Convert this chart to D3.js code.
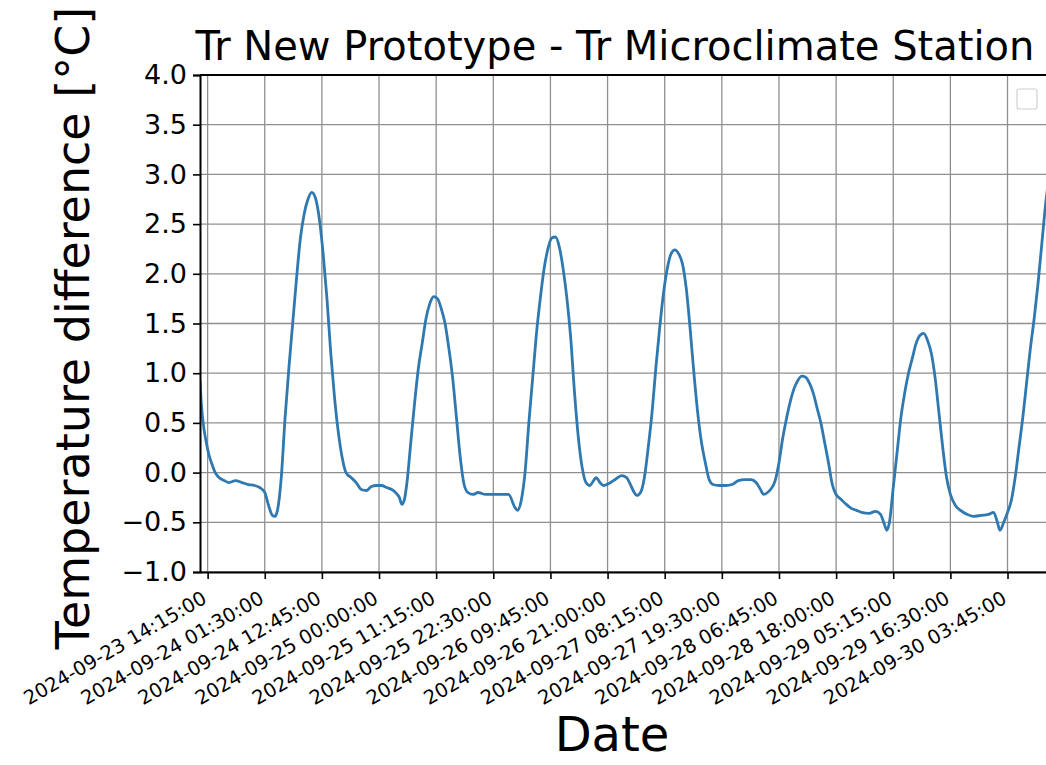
<!DOCTYPE html>
<html>
<head>
<meta charset="utf-8">
<script src="https://cdn.jsdelivr.net/npm/d3@7"></script>
<style>
  body { margin: 0; background: #fff; }
  svg { display: block; font-family: "DejaVu Sans", sans-serif; }
</style>
</head>
<body>
<div id="chart"></div>
<script>
// 時間 (UTC) 與溫度差
const times = [
  "2024-09-23 12:45", "2024-09-23 13:00", "2024-09-23 13:30", "2024-09-23 14:00", "2024-09-23 14:30",
  "2024-09-23 15:00", "2024-09-23 15:45", "2024-09-23 16:30", "2024-09-23 17:30", "2024-09-23 18:30",
  "2024-09-23 19:45", "2024-09-23 21:00", "2024-09-23 22:15", "2024-09-23 23:30", "2024-09-24 00:30",
  "2024-09-24 01:30", "2024-09-24 02:15", "2024-09-24 03:00", "2024-09-24 03:30", "2024-09-24 04:00",
  "2024-09-24 04:45", "2024-09-24 05:30", "2024-09-24 06:15", "2024-09-24 07:00", "2024-09-24 07:45",
  "2024-09-24 08:30", "2024-09-24 09:15", "2024-09-24 10:00", "2024-09-24 10:45", "2024-09-24 11:30",
  "2024-09-24 12:15", "2024-09-24 13:00", "2024-09-24 13:45", "2024-09-24 14:30", "2024-09-24 15:15",
  "2024-09-24 16:00", "2024-09-24 16:45", "2024-09-24 17:30", "2024-09-24 18:30", "2024-09-24 19:30",
  "2024-09-24 20:30", "2024-09-24 21:30", "2024-09-24 22:30", "2024-09-24 23:30", "2024-09-25 00:30",
  "2024-09-25 01:30", "2024-09-25 02:30", "2024-09-25 03:15", "2024-09-25 04:00", "2024-09-25 04:30",
  "2024-09-25 05:00", "2024-09-25 05:30", "2024-09-25 06:15", "2024-09-25 07:00", "2024-09-25 07:45",
  "2024-09-25 08:30", "2024-09-25 09:15", "2024-09-25 10:00", "2024-09-25 10:45", "2024-09-25 11:30",
  "2024-09-25 12:15", "2024-09-25 13:00", "2024-09-25 13:45", "2024-09-25 14:30", "2024-09-25 15:15",
  "2024-09-25 16:00", "2024-09-25 16:45", "2024-09-25 17:30", "2024-09-25 18:30", "2024-09-25 19:30",
  "2024-09-25 21:00", "2024-09-25 22:30", "2024-09-26 00:00", "2024-09-26 01:30", "2024-09-26 02:45",
  "2024-09-26 03:15", "2024-09-26 04:00", "2024-09-26 04:45", "2024-09-26 05:30", "2024-09-26 06:15",
  "2024-09-26 07:00", "2024-09-26 07:45", "2024-09-26 08:30", "2024-09-26 09:15", "2024-09-26 10:00",
  "2024-09-26 10:45", "2024-09-26 11:30", "2024-09-26 12:15", "2024-09-26 13:00", "2024-09-26 13:45",
  "2024-09-26 14:30", "2024-09-26 15:15", "2024-09-26 16:00", "2024-09-26 16:45", "2024-09-26 17:30",
  "2024-09-26 18:15", "2024-09-26 18:45", "2024-09-26 19:30", "2024-09-26 20:15", "2024-09-26 21:15",
  "2024-09-26 22:30", "2024-09-26 23:45", "2024-09-27 00:45", "2024-09-27 01:30", "2024-09-27 02:15",
  "2024-09-27 02:45", "2024-09-27 03:30", "2024-09-27 04:15", "2024-09-27 05:00", "2024-09-27 05:45",
  "2024-09-27 06:30", "2024-09-27 07:15", "2024-09-27 08:00", "2024-09-27 08:45", "2024-09-27 09:30",
  "2024-09-27 10:15", "2024-09-27 11:00", "2024-09-27 11:45", "2024-09-27 12:30", "2024-09-27 13:15",
  "2024-09-27 14:00", "2024-09-27 14:45", "2024-09-27 15:30", "2024-09-27 16:15", "2024-09-27 17:00",
  "2024-09-27 17:45", "2024-09-27 19:00", "2024-09-27 20:15", "2024-09-27 21:30", "2024-09-27 22:45",
  "2024-09-28 00:00", "2024-09-28 01:15", "2024-09-28 02:15", "2024-09-28 03:00", "2024-09-28 03:45",
  "2024-09-28 04:30", "2024-09-28 05:15", "2024-09-28 06:00", "2024-09-28 06:45", "2024-09-28 07:30",
  "2024-09-28 08:15", "2024-09-28 09:00", "2024-09-28 09:45", "2024-09-28 10:30", "2024-09-28 11:15",
  "2024-09-28 12:00", "2024-09-28 12:45", "2024-09-28 13:30", "2024-09-28 14:15", "2024-09-28 15:00",
  "2024-09-28 15:45", "2024-09-28 16:30", "2024-09-28 17:15", "2024-09-28 18:00", "2024-09-28 19:00",
  "2024-09-28 20:00", "2024-09-28 21:00", "2024-09-28 22:00", "2024-09-28 23:00", "2024-09-29 00:30",
  "2024-09-29 01:45", "2024-09-29 02:45", "2024-09-29 03:30", "2024-09-29 04:00", "2024-09-29 04:30",
  "2024-09-29 05:15", "2024-09-29 06:00", "2024-09-29 06:45", "2024-09-29 07:30", "2024-09-29 08:15",
  "2024-09-29 09:00", "2024-09-29 09:45", "2024-09-29 10:30", "2024-09-29 11:15", "2024-09-29 12:00",
  "2024-09-29 12:45", "2024-09-29 13:30", "2024-09-29 14:15", "2024-09-29 15:00", "2024-09-29 15:45",
  "2024-09-29 16:30", "2024-09-29 17:30", "2024-09-29 18:30", "2024-09-29 19:45", "2024-09-29 21:00",
  "2024-09-29 22:30", "2024-09-30 00:00", "2024-09-30 01:00", "2024-09-30 01:45", "2024-09-30 02:15",
  "2024-09-30 03:00", "2024-09-30 03:45", "2024-09-30 04:30", "2024-09-30 05:15", "2024-09-30 06:00",
  "2024-09-30 06:45", "2024-09-30 07:30", "2024-09-30 08:15", "2024-09-30 09:00", "2024-09-30 09:45",
  "2024-09-30 10:30", "2024-09-30 11:15", "2024-09-30 12:00"
];
const tempDiff = [
  0.92, 0.70, 0.45, 0.30, 0.18,
  0.10, 0.00, -0.05, -0.08, -0.10,
  -0.08, -0.10, -0.12, -0.13, -0.15,
  -0.20, -0.33, -0.43, -0.44, -0.38,
  -0.05, 0.55, 1.05, 1.50, 1.95,
  2.35, 2.60, 2.75, 2.82, 2.76,
  2.55, 2.20, 1.75, 1.20, 0.75,
  0.40, 0.15, 0.00, -0.05, -0.10,
  -0.17, -0.18, -0.14, -0.13, -0.13,
  -0.15, -0.17, -0.20, -0.25, -0.32,
  -0.27, -0.10, 0.30, 0.70, 1.05,
  1.30, 1.55, 1.70, 1.77, 1.75,
  1.65, 1.50, 1.25, 0.95, 0.55,
  0.15, -0.12, -0.20, -0.22, -0.20,
  -0.22, -0.22, -0.22, -0.22, -0.35,
  -0.38, -0.28, 0.00, 0.50, 0.95,
  1.40, 1.75, 2.05, 2.25, 2.36,
  2.37, 2.27, 2.05, 1.75, 1.35,
  0.80, 0.35, 0.05, -0.10, -0.13,
  -0.08, -0.05, -0.10, -0.13, -0.11,
  -0.07, -0.03, -0.05, -0.12, -0.20,
  -0.23, -0.20, -0.05, 0.25, 0.60,
  1.05, 1.45, 1.80, 2.05, 2.20,
  2.24, 2.20, 2.10, 1.85, 1.45,
  1.00, 0.60, 0.30, 0.10, -0.07,
  -0.12, -0.13, -0.13, -0.12, -0.08,
  -0.07, -0.07, -0.10, -0.16, -0.22,
  -0.20, -0.16, -0.08, 0.10, 0.35,
  0.55, 0.72, 0.85, 0.93, 0.97,
  0.96, 0.90, 0.80, 0.65, 0.50,
  0.30, 0.10, -0.12, -0.22, -0.27,
  -0.32, -0.36, -0.38, -0.40, -0.41,
  -0.39, -0.42, -0.52, -0.58, -0.50,
  -0.15, 0.20, 0.55, 0.80, 1.00,
  1.15, 1.30, 1.38, 1.40, 1.33,
  1.20, 0.95, 0.60, 0.25, -0.05,
  -0.22, -0.33, -0.38, -0.42, -0.44,
  -0.43, -0.42, -0.40, -0.50, -0.58,
  -0.50, -0.40, -0.28, -0.05, 0.25,
  0.55, 0.90, 1.25, 1.55, 1.90,
  2.30, 2.70, 3.00
];
const xTickLabels = [
  "2024-09-23 14:15:00", "2024-09-24 01:30:00", "2024-09-24 12:45:00", "2024-09-25 00:00:00",
  "2024-09-25 11:15:00", "2024-09-25 22:30:00", "2024-09-26 09:45:00", "2024-09-26 21:00:00",
  "2024-09-27 08:15:00", "2024-09-27 19:30:00", "2024-09-28 06:45:00", "2024-09-28 18:00:00",
  "2024-09-29 05:15:00", "2024-09-29 16:30:00", "2024-09-30 03:45:00"
];
const yTicks = [-1.0, -0.5, 0.0, 0.5, 1.0, 1.5, 2.0, 2.5, 3.0, 3.5, 4.0];
const xDomain = ["2024-09-23 12:45", "2024-09-30 14:05"];

const parseTime = d3.utcParse("%Y-%m-%d %H:%M");
const parseTick = d3.utcParse("%Y-%m-%d %H:%M:%S");
const data = times.map((t, i) => ({ date: parseTime(t), value: tempDiff[i] }));

const W = 1046, H = 765;
const margin = { top: 75, left: 200 };
const plotRight = 1060, plotBottom = 572;

const svg = d3.select("#chart")
    .append("svg")
    .attr("width", W)
    .attr("height", H);

// 比例尺
const x = d3.scaleUtc()
    .domain(xDomain.map(parseTime))
    .range([margin.left, plotRight]);

const y = d3.scaleLinear()
    .domain([-1.0, 4.0])
    .range([plotBottom, margin.top]);

// 格線
svg.append("g")
    .selectAll("line")
    .data(yTicks)
    .join("line")
    .attr("x1", margin.left).attr("x2", plotRight)
    .attr("y1", d => y(d)).attr("y2", d => y(d))
    .attr("stroke", "#8f8f8f")
    .attr("stroke-width", 1.3);

svg.append("g")
    .selectAll("line")
    .data(xTickLabels)
    .join("line")
    .attr("x1", d => x(parseTick(d))).attr("x2", d => x(parseTick(d)))
    .attr("y1", margin.top).attr("y2", plotBottom)
    .attr("stroke", "#8f8f8f")
    .attr("stroke-width", 1.3);

// 曲線
svg.append("clipPath")
    .attr("id", "clip")
    .append("rect")
    .attr("x", margin.left).attr("y", margin.top)
    .attr("width", plotRight - margin.left)
    .attr("height", plotBottom - margin.top);

const line = d3.line()
    .x(d => x(d.date))
    .y(d => y(d.value))
    .curve(d3.curveMonotoneX);

svg.append("path")
    .datum(data)
    .attr("clip-path", "url(#clip)")
    .attr("fill", "none")
    .attr("stroke", "#2f78b0")
    .attr("stroke-width", 2.8)
    .attr("stroke-linejoin", "round")
    .attr("d", line);

// 軸
const yAxis = svg.append("g")
    .attr("transform", `translate(${margin.left},0)`)
    .call(d3.axisLeft(y)
        .tickValues(yTicks)
        .tickSize(7)
        .tickPadding(6)
        .tickFormat(d => d3.format(".1f")(d).replace("-", "\u2212")));
yAxis.select(".domain").attr("stroke-width", 2);
yAxis.selectAll(".tick line").attr("stroke-width", 1.6);
yAxis.selectAll("text")
    .style("font-size", "27px")
    .style("font-family", "DejaVu Sans")
    .attr("fill", "#000");

const xAxis = svg.append("g")
    .attr("transform", `translate(0,${plotBottom})`)
    .call(d3.axisBottom(x)
        .tickValues(xTickLabels.map(parseTick))
        .tickSize(7)
        .tickSizeOuter(0)
        .tickFormat((d, i) => xTickLabels[i]));
xAxis.select(".domain").attr("stroke-width", 2);
xAxis.selectAll(".tick line").attr("stroke-width", 1.6);
xAxis.selectAll("text")
    .style("font-size", "19.5px")
    .style("font-family", "DejaVu Sans")
    .attr("fill", "#000")
    .attr("text-anchor", "end")
    .attr("dy", null)
    .attr("y", 0)
    .attr("transform", "translate(0,30) rotate(-30)");

// 上方框線
svg.append("line")
    .attr("x1", margin.left).attr("x2", plotRight)
    .attr("y1", margin.top).attr("y2", margin.top)
    .attr("stroke", "#000")
    .attr("stroke-width", 2);

// 空白圖例
svg.append("rect")
    .attr("x", 1017).attr("y", 89)
    .attr("width", 20).attr("height", 20)
    .attr("rx", 2)
    .attr("fill", "#fff")
    .attr("stroke", "#d0d0d0")
    .attr("stroke-width", 1.2);

// 標題
svg.append("text")
    .attr("x", 615)
    .attr("y", 60)
    .attr("text-anchor", "middle")
    .style("font-size", "40px")
    .text("Tr New Prototype - Tr Microclimate Station");

svg.append("text")
    .attr("x", 612)
    .attr("y", 751)
    .attr("text-anchor", "middle")
    .style("font-size", "48px")
    .text("Date");

svg.append("text")
    .attr("transform", "translate(89,328) rotate(-90)")
    .attr("text-anchor", "middle")
    .style("font-size", "46px")
    .text("Temperature difference [°C]");
</script>
</body>
</html>
